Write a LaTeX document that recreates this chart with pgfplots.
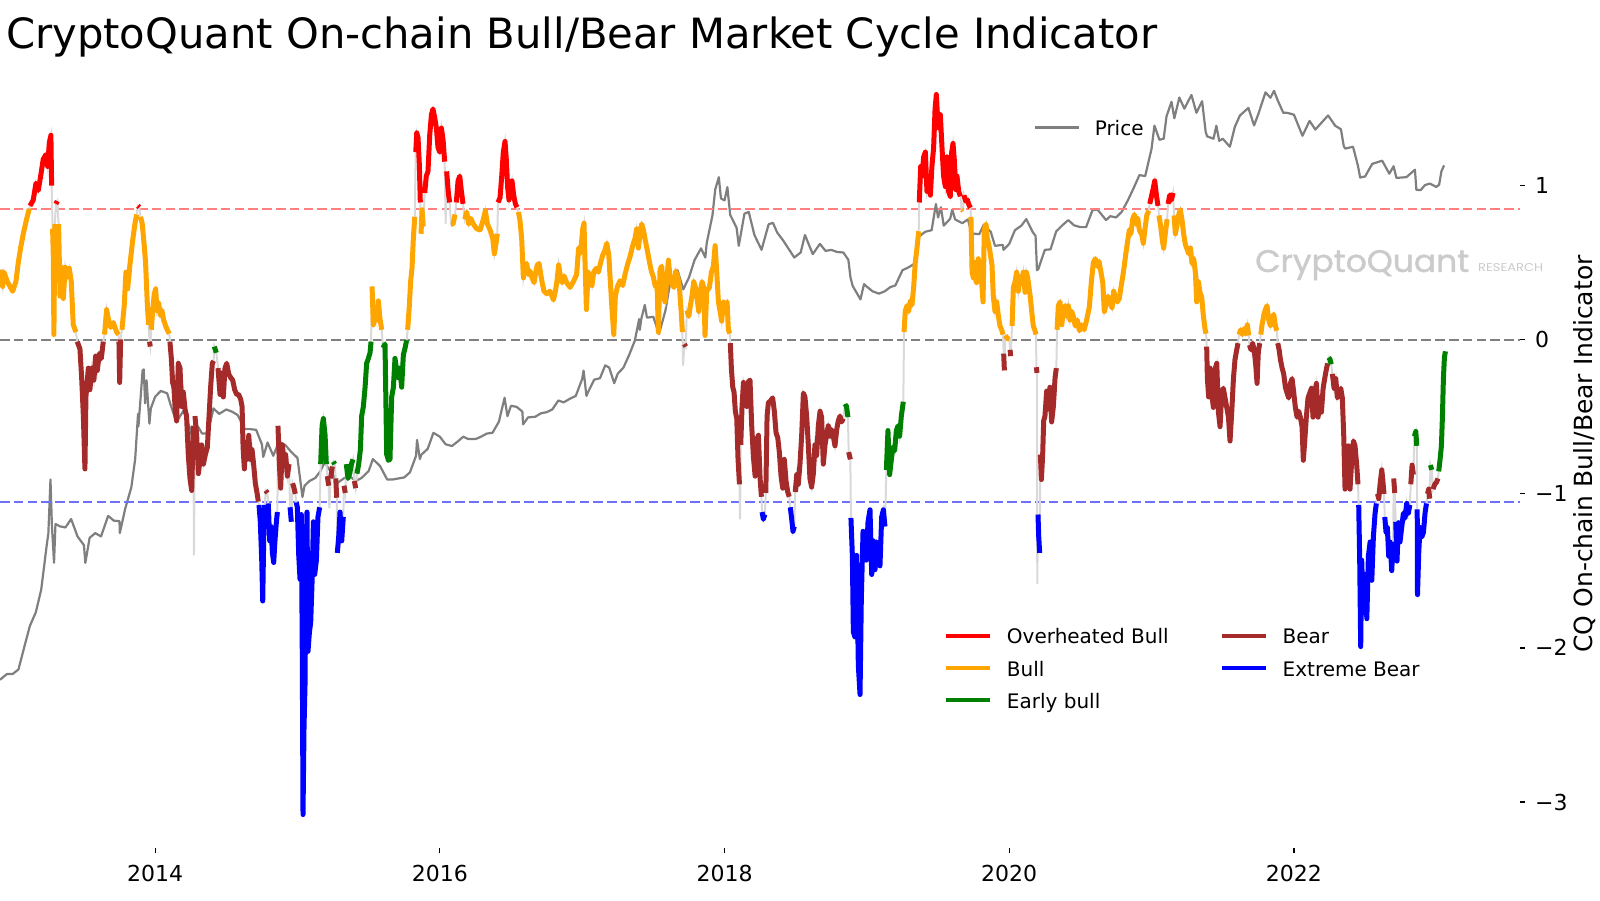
\documentclass[border=0pt]{standalone}
\usepackage{fontspec}
\setmainfont{DejaVu Sans}
\newfontfamily\wmfont{Poppins}[FakeBold=1.2]
\newfontfamily\wmlight{Poppins}
\usepackage{graphicx}
\usepackage{pgfplots}
\usepackage{pgfplotstable}
\pgfplotsset{compat=1.18}

\definecolor{cqred}{HTML}{FF0000}
\definecolor{cqorange}{HTML}{FFA500}
\definecolor{cqgreen}{HTML}{008000}
\definecolor{cqbrown}{HTML}{A52A2A}
\definecolor{cqblue}{HTML}{0000FF}
\definecolor{pricegray}{HTML}{7F7F7F}
\definecolor{basegray}{HTML}{D9D9D9}
\definecolor{wmgray}{HTML}{CBCBCB}
\definecolor{dashred}{HTML}{FF8080}
\definecolor{dashgray}{HTML}{808080}
\definecolor{dashblue}{RGB}{110,110,255}

% regime r: 0 Extreme Bear, 1 Bear, 2 Early bull, 3 Bull, 4 Overheated Bull, 9 none
\pgfplotstableread{
t v r
2012.910 0.455 3
2012.929 0.346 3
2012.938 0.439 3
2012.962 0.377 3
2012.999 0.315 3
2013.022 0.377 3
2013.039 0.502 3
2013.055 0.595 3
2013.074 0.688 3
2013.097 0.782 3
2013.116 0.850 3
2013.121 0.869 4
2013.144 0.907 4
2013.163 1.016 4
2013.179 0.969 4
2013.196 1.062 4
2013.214 1.171 4
2013.233 1.202 4
2013.245 1.125 4
2013.257 1.280 4
2013.268 1.327 4
2013.273 1.000 4
2013.280 0.720 3
2013.285 0.533 3
2013.289 0.034 3
2013.296 0.751 3
2013.303 0.882 4
2013.313 0.900 4
2013.322 0.751 3
2013.332 0.283 3
2013.343 0.470 3
2013.355 0.268 3
2013.369 0.470 3
2013.383 0.408 3
2013.397 0.464 3
2013.411 0.377 3
2013.425 0.097 3
2013.444 0.050 3
2013.453 -0.012 1
2013.472 -0.059 1
2013.484 -0.246 1
2013.496 -0.495 1
2013.507 -0.838 1
2013.514 -0.371 1
2013.531 -0.184 1
2013.542 -0.324 1
2013.556 -0.184 1
2013.570 -0.262 1
2013.582 -0.106 1
2013.594 -0.199 1
2013.608 -0.090 1
2013.622 -0.121 1
2013.636 -0.012 1
2013.645 0.034 3
2013.659 0.196 3
2013.673 0.128 3
2013.687 0.081 3
2013.706 0.112 3
2013.730 0.050 3
2013.744 0.034 3
2013.746 -0.012 1
2013.751 -0.277 1
2013.758 0.003 1
2013.767 0.065 3
2013.783 0.221 3
2013.795 0.439 3
2013.807 0.330 3
2013.823 0.486 3
2013.842 0.642 3
2013.858 0.751 3
2013.870 0.813 3
2013.879 0.869 4
2013.889 0.860 4
2013.898 0.798 3
2013.910 0.751 3
2013.922 0.626 3
2013.933 0.502 3
2013.945 0.237 3
2013.954 0.097 3
2013.961 -0.012 1
2013.966 -0.044 1
2013.973 0.065 3
2013.983 0.190 3
2013.994 0.299 3
2014.004 0.330 3
2014.013 0.190 3
2014.025 0.237 3
2014.036 0.159 3
2014.048 0.190 3
2014.060 0.128 3
2014.074 0.090 3
2014.088 0.059 3
2014.100 0.040 3
2014.104 -0.012 1
2014.114 -0.121 1
2014.123 -0.277 1
2014.132 -0.308 1
2014.142 -0.464 1
2014.151 -0.526 1
2014.163 -0.153 1
2014.175 -0.184 1
2014.186 -0.433 1
2014.198 -0.340 1
2014.210 -0.449 1
2014.221 -0.495 1
2014.233 -0.745 1
2014.245 -0.900 1
2014.257 -0.978 1
2014.269 -0.558 1
2014.273 -1.399 9
2014.280 -0.495 1
2014.292 -0.620 1
2014.304 -0.869 1
2014.316 -0.776 1
2014.327 -0.682 1
2014.339 -0.807 1
2014.353 -0.745 1
2014.367 -0.698 1
2014.379 -0.495 1
2014.390 -0.308 1
2014.402 -0.153 1
2014.411 -0.137 1
2014.416 -0.044 2
2014.430 -0.084 2
2014.442 -0.184 1
2014.456 -0.355 1
2014.468 -0.215 1
2014.479 -0.371 1
2014.491 -0.184 1
2014.503 -0.153 1
2014.517 -0.221 1
2014.531 -0.246 1
2014.545 -0.262 1
2014.559 -0.324 1
2014.573 -0.355 1
2014.587 -0.355 1
2014.601 -0.386 1
2014.611 -0.433 1
2014.618 -0.698 1
2014.627 -0.838 1
2014.636 -0.667 1
2014.646 -0.776 1
2014.658 -0.620 1
2014.669 -0.776 1
2014.681 -0.713 1
2014.692 -0.807 1
2014.704 -0.931 1
2014.716 -0.994 1
2014.725 -1.050 1
2014.730 -1.072 0
2014.739 -1.181 0
2014.749 -1.430 0
2014.756 -1.695 0
2014.763 -1.274 0
2014.770 -1.072 0
2014.777 -0.978 1
2014.789 -0.994 1
2014.795 -1.062 0
2014.805 -1.305 0
2014.814 -1.212 0
2014.824 -1.383 0
2014.833 -1.445 0
2014.842 -1.305 0
2014.852 -1.181 0
2014.859 -1.118 0
2014.863 -0.558 1
2014.873 -0.807 1
2014.882 -0.963 1
2014.894 -0.682 1
2014.906 -0.807 1
2014.917 -0.745 1
2014.929 -0.885 1
2014.941 -0.807 1
2014.948 -1.087 0
2014.957 -1.181 0
2014.966 -0.931 1
2014.976 -0.963 1
2014.985 -1.000 1
2014.992 -1.056 0
2014.999 -1.087 0
2015.009 -1.399 0
2015.018 -1.554 0
2015.027 -1.134 0
2015.034 -2.053 0
2015.039 -3.081 0
2015.046 -2.520 0
2015.053 -2.240 0
2015.060 -1.430 0
2015.067 -1.118 0
2015.074 -2.022 0
2015.084 -1.897 0
2015.093 -1.835 0
2015.102 -1.586 0
2015.112 -1.181 0
2015.121 -1.523 0
2015.133 -1.430 0
2015.144 -1.150 0
2015.156 -1.087 0
2015.163 -0.807 2
2015.173 -0.558 2
2015.182 -0.511 2
2015.194 -0.620 2
2015.203 -0.807 2
2015.210 -0.885 1
2015.219 -0.947 1
2015.224 -1.093 0
2015.233 -0.900 1
2015.245 -0.822 1
2015.252 -0.791 2
2015.262 -0.807 2
2015.269 -0.900 1
2015.276 -1.025 1
2015.280 -1.383 0
2015.290 -1.274 0
2015.299 -1.118 0
2015.311 -1.305 0
2015.322 -1.150 0
2015.327 -0.947 1
2015.336 -0.994 1
2015.343 -0.807 2
2015.355 -0.900 2
2015.367 -0.869 2
2015.379 -0.807 2
2015.390 -0.776 2
2015.400 -0.916 1
2015.409 -0.963 1
2015.418 -0.869 2
2015.430 -0.807 2
2015.442 -0.713 2
2015.451 -0.495 2
2015.463 -0.433 2
2015.475 -0.308 2
2015.486 -0.153 2
2015.498 -0.121 2
2015.510 -0.084 2
2015.517 -0.012 2
2015.524 0.346 3
2015.533 0.097 3
2015.545 0.196 3
2015.557 0.128 3
2015.568 0.252 3
2015.580 0.134 3
2015.592 0.065 3
2015.601 -0.053 2
2015.615 -0.028 2
2015.627 -0.745 2
2015.639 -0.782 2
2015.650 -0.776 2
2015.662 -0.371 2
2015.674 -0.308 2
2015.685 -0.121 2
2015.697 -0.199 2
2015.709 -0.246 2
2015.720 -0.184 2
2015.732 -0.308 2
2015.744 -0.097 2
2015.756 -0.053 2
2015.767 -0.003 2
2015.774 0.065 3
2015.786 0.221 3
2015.795 0.377 3
2015.805 0.470 3
2015.814 0.657 3
2015.824 0.798 3
2015.831 1.218 4
2015.838 1.343 4
2015.847 1.312 4
2015.856 1.140 4
2015.863 0.891 4
2015.868 0.688 3
2015.875 0.844 3
2015.884 0.735 3
2015.894 0.953 4
2015.905 1.062 4
2015.917 1.093 4
2015.929 1.327 4
2015.941 1.461 4
2015.952 1.498 4
2015.964 1.442 4
2015.976 1.374 4
2015.987 1.249 4
2015.999 1.218 4
2016.011 1.374 4
2016.023 1.296 4
2016.034 1.156 4
2016.041 0.751 3
2016.048 1.093 4
2016.060 0.953 4
2016.069 0.891 4
2016.079 0.751 3
2016.093 0.751 3
2016.107 0.813 3
2016.116 0.891 4
2016.128 1.031 4
2016.140 1.062 4
2016.151 0.969 4
2016.163 0.882 4
2016.175 0.782 3
2016.189 0.829 3
2016.203 0.751 3
2016.217 0.788 3
2016.236 0.751 3
2016.259 0.720 3
2016.283 0.713 3
2016.306 0.782 3
2016.320 0.838 3
2016.334 0.751 3
2016.353 0.713 3
2016.372 0.657 3
2016.383 0.558 3
2016.395 0.626 3
2016.404 0.688 3
2016.409 0.891 4
2016.423 0.922 4
2016.435 1.062 4
2016.446 1.218 4
2016.458 1.287 4
2016.467 1.171 4
2016.477 0.984 4
2016.486 0.907 4
2016.496 0.969 4
2016.507 1.031 4
2016.519 0.938 4
2016.531 0.882 4
2016.542 0.860 4
2016.552 0.829 3
2016.563 0.776 3
2016.575 0.657 3
2016.587 0.402 3
2016.599 0.470 3
2016.610 0.495 3
2016.622 0.424 3
2016.634 0.446 3
2016.648 0.402 3
2016.662 0.371 3
2016.674 0.439 3
2016.685 0.486 3
2016.697 0.495 3
2016.709 0.424 3
2016.721 0.361 3
2016.732 0.315 3
2016.751 0.299 3
2016.774 0.315 3
2016.798 0.259 3
2016.812 0.315 3
2016.823 0.383 3
2016.835 0.486 3
2016.847 0.408 3
2016.859 0.371 3
2016.873 0.414 3
2016.891 0.371 3
2016.915 0.340 3
2016.938 0.377 3
2016.961 0.424 3
2016.975 0.595 3
2016.989 0.564 3
2017.004 0.720 3
2017.013 0.757 3
2017.020 0.502 3
2017.030 0.196 3
2017.041 0.439 3
2017.055 0.402 3
2017.069 0.352 3
2017.081 0.439 3
2017.098 0.464 3
2017.114 0.439 3
2017.130 0.502 3
2017.144 0.548 3
2017.159 0.579 3
2017.173 0.626 3
2017.187 0.548 3
2017.198 0.377 3
2017.210 0.190 3
2017.222 0.034 3
2017.233 0.283 3
2017.248 0.346 3
2017.266 0.383 3
2017.285 0.352 3
2017.301 0.424 3
2017.318 0.486 3
2017.336 0.539 3
2017.355 0.611 3
2017.371 0.657 3
2017.383 0.720 3
2017.395 0.595 3
2017.407 0.695 3
2017.418 0.751 3
2017.430 0.713 3
2017.444 0.642 3
2017.458 0.579 3
2017.472 0.508 3
2017.486 0.446 3
2017.500 0.408 3
2017.514 0.346 3
2017.526 0.361 3
2017.535 0.050 3
2017.547 0.455 3
2017.559 0.477 3
2017.571 0.283 3
2017.582 0.246 3
2017.594 0.377 3
2017.606 0.517 3
2017.617 0.408 3
2017.631 0.361 3
2017.645 0.340 3
2017.657 0.446 3
2017.671 0.408 3
2017.683 0.346 3
2017.695 0.190 3
2017.704 0.050 3
2017.709 -0.168 9
2017.718 -0.028 1
2017.728 -0.044 1
2017.735 0.190 3
2017.749 0.153 3
2017.760 0.221 3
2017.772 0.290 3
2017.784 0.377 3
2017.795 0.340 3
2017.807 0.268 3
2017.819 0.184 3
2017.830 0.315 3
2017.842 0.377 3
2017.854 0.340 3
2017.863 0.028 3
2017.875 0.315 3
2017.894 0.340 3
2017.908 0.439 3
2017.922 0.477 3
2017.934 0.611 3
2017.945 0.446 3
2017.957 0.246 3
2017.969 0.184 3
2017.980 0.121 3
2017.992 0.246 3
2018.006 0.221 3
2018.018 0.246 3
2018.027 0.065 3
2018.037 0.040 3
2018.041 -0.022 1
2018.048 -0.184 1
2018.058 -0.308 1
2018.067 -0.340 1
2018.076 -0.464 1
2018.086 -0.511 1
2018.095 -0.776 1
2018.105 -0.938 1
2018.109 -1.165 9
2018.114 -0.682 1
2018.123 -0.433 1
2018.133 -0.277 1
2018.144 -0.324 1
2018.156 -0.433 1
2018.168 -0.271 1
2018.179 -0.262 1
2018.191 -0.558 1
2018.203 -0.760 1
2018.215 -0.885 1
2018.226 -0.651 1
2018.238 -0.620 1
2018.250 -0.900 1
2018.259 -1.019 1
2018.264 -1.118 0
2018.273 -1.165 0
2018.283 -1.134 0
2018.290 -0.994 1
2018.299 -0.495 1
2018.308 -0.408 1
2018.324 -0.396 1
2018.338 -0.377 1
2018.350 -0.464 1
2018.362 -0.604 1
2018.374 -0.636 1
2018.385 -0.729 1
2018.397 -0.885 1
2018.409 -0.963 1
2018.420 -0.776 1
2018.432 -0.916 1
2018.444 -0.988 1
2018.455 -1.019 1
2018.462 -1.087 0
2018.471 -1.156 0
2018.481 -1.243 0
2018.490 -1.212 0
2018.497 -0.988 1
2018.507 -0.875 1
2018.518 -0.938 1
2018.530 -0.807 1
2018.542 -0.620 1
2018.554 -0.346 1
2018.565 -0.371 1
2018.577 -0.495 1
2018.589 -0.688 1
2018.600 -0.900 1
2018.612 -0.956 1
2018.624 -0.869 1
2018.635 -0.682 1
2018.647 -0.751 1
2018.659 -0.558 1
2018.671 -0.464 1
2018.682 -0.502 1
2018.694 -0.807 1
2018.706 -0.682 1
2018.717 -0.620 1
2018.729 -0.558 1
2018.741 -0.626 1
2018.752 -0.583 1
2018.764 -0.626 1
2018.776 -0.688 1
2018.788 -0.583 1
2018.799 -0.526 1
2018.811 -0.495 1
2018.823 -0.533 1
2018.834 -0.511 1
2018.844 -0.439 2
2018.856 -0.427 2
2018.867 -0.502 2
2018.872 -0.729 1
2018.884 -0.776 1
2018.888 -1.156 0
2018.898 -1.399 0
2018.905 -1.897 0
2018.916 -1.928 0
2018.928 -1.399 0
2018.940 -2.115 0
2018.952 -2.302 0
2018.961 -1.679 0
2018.973 -1.243 0
2018.984 -1.305 0
2018.996 -1.430 0
2019.008 -1.181 0
2019.022 -1.103 0
2019.034 -1.523 0
2019.045 -1.305 0
2019.057 -1.492 0
2019.069 -1.312 0
2019.080 -1.336 0
2019.092 -1.467 0
2019.104 -1.150 0
2019.116 -1.103 0
2019.127 -1.212 0
2019.137 -0.844 2
2019.148 -0.589 2
2019.160 -0.875 2
2019.172 -0.776 2
2019.183 -0.698 2
2019.195 -0.720 2
2019.207 -0.589 2
2019.219 -0.558 2
2019.230 -0.626 2
2019.242 -0.495 2
2019.256 -0.402 2
2019.261 0.050 3
2019.270 0.190 3
2019.282 0.221 3
2019.293 0.184 3
2019.305 0.252 3
2019.317 0.227 3
2019.329 0.346 3
2019.340 0.502 3
2019.352 0.595 3
2019.364 0.704 3
2019.368 0.891 4
2019.378 1.125 4
2019.387 1.062 4
2019.399 1.187 4
2019.411 1.218 4
2019.422 0.963 4
2019.434 1.031 4
2019.446 0.938 4
2019.457 1.125 4
2019.469 1.249 4
2019.479 1.498 4
2019.488 1.592 4
2019.497 1.436 4
2019.507 1.374 4
2019.516 1.461 4
2019.528 1.243 4
2019.539 1.062 4
2019.551 0.994 4
2019.563 1.187 4
2019.574 0.963 4
2019.586 0.931 4
2019.596 1.218 4
2019.605 1.274 4
2019.614 1.171 4
2019.624 0.975 4
2019.633 1.062 4
2019.645 0.963 4
2019.657 0.931 4
2019.666 0.844 3
2019.675 0.838 3
2019.682 0.938 4
2019.694 0.900 4
2019.706 0.907 4
2019.717 0.875 4
2019.727 0.857 4
2019.731 0.798 3
2019.739 0.439 3
2019.748 0.402 3
2019.760 0.502 3
2019.771 0.371 3
2019.783 0.526 3
2019.795 0.439 3
2019.806 0.377 3
2019.816 0.246 3
2019.825 0.720 3
2019.837 0.751 3
2019.846 0.657 3
2019.856 0.620 3
2019.867 0.558 3
2019.879 0.486 3
2019.888 0.283 3
2019.900 0.184 3
2019.912 0.246 3
2019.924 0.153 3
2019.935 0.090 3
2019.947 0.065 3
2019.956 0.034 3
2019.961 -0.090 1
2019.966 -0.199 1
2019.973 0.028 3
2019.987 0.009 3
2020.001 0.003 3
2020.006 -0.065 1
2020.010 -0.106 1
2020.020 0.090 3
2020.029 0.340 3
2020.041 0.377 3
2020.052 0.439 3
2020.064 0.315 3
2020.076 0.408 3
2020.087 0.377 3
2020.099 0.439 3
2020.111 0.308 3
2020.120 0.439 3
2020.130 0.402 3
2020.139 0.340 3
2020.148 0.277 3
2020.158 0.184 3
2020.169 0.090 3
2020.181 0.059 3
2020.188 0.034 3
2020.191 -0.178 1
2020.195 -0.215 1
2020.197 -1.586 9
2020.202 -1.134 0
2020.207 -1.274 0
2020.214 -1.383 0
2020.219 -0.745 1
2020.226 -0.907 1
2020.235 -0.745 1
2020.242 -0.526 1
2020.251 -0.495 1
2020.263 -0.333 1
2020.275 -0.449 1
2020.286 -0.308 1
2020.298 -0.533 1
2020.310 -0.433 1
2020.322 -0.246 1
2020.331 -0.184 1
2020.336 0.065 3
2020.345 0.221 3
2020.357 0.246 3
2020.369 0.097 3
2020.380 0.190 3
2020.392 0.221 3
2020.404 0.153 3
2020.415 0.221 3
2020.427 0.128 3
2020.439 0.184 3
2020.450 0.153 3
2020.464 0.090 3
2020.478 0.128 3
2020.493 0.059 3
2020.509 0.097 3
2020.526 0.065 3
2020.544 0.128 3
2020.563 0.215 3
2020.577 0.377 3
2020.591 0.502 3
2020.605 0.526 3
2020.619 0.477 3
2020.631 0.508 3
2020.643 0.446 3
2020.657 0.371 3
2020.668 0.184 3
2020.680 0.227 3
2020.694 0.283 3
2020.708 0.246 3
2020.722 0.206 3
2020.734 0.315 3
2020.745 0.277 3
2020.759 0.246 3
2020.773 0.268 3
2020.785 0.340 3
2020.797 0.408 3
2020.809 0.486 3
2020.820 0.564 3
2020.832 0.642 3
2020.844 0.713 3
2020.855 0.688 3
2020.867 0.782 3
2020.879 0.813 3
2020.891 0.751 3
2020.903 0.788 3
2020.914 0.713 3
2020.931 0.682 3
2020.942 0.626 3
2020.954 0.720 3
2020.966 0.807 3
2020.980 0.838 3
2020.987 0.882 4
2020.999 0.931 4
2021.010 0.975 4
2021.022 1.031 4
2021.034 0.938 4
2021.045 0.869 4
2021.052 0.807 3
2021.064 0.735 3
2021.076 0.642 3
2021.085 0.595 3
2021.097 0.695 3
2021.109 0.782 3
2021.116 0.882 4
2021.127 0.938 4
2021.139 0.907 4
2021.151 0.953 4
2021.158 0.807 3
2021.167 0.688 3
2021.179 0.745 3
2021.191 0.813 3
2021.202 0.844 3
2021.214 0.776 3
2021.226 0.682 3
2021.237 0.620 3
2021.249 0.589 3
2021.261 0.558 3
2021.273 0.595 3
2021.284 0.495 3
2021.296 0.526 3
2021.308 0.433 3
2021.317 0.246 3
2021.329 0.377 3
2021.340 0.308 3
2021.352 0.277 3
2021.364 0.153 3
2021.376 0.065 3
2021.383 0.040 3
2021.387 -0.044 1
2021.392 -0.252 1
2021.401 -0.371 1
2021.411 -0.184 1
2021.422 -0.340 1
2021.434 -0.439 1
2021.446 -0.190 1
2021.458 -0.153 1
2021.469 -0.464 1
2021.481 -0.564 1
2021.493 -0.340 1
2021.504 -0.315 1
2021.516 -0.377 1
2021.528 -0.439 1
2021.540 -0.502 1
2021.551 -0.657 1
2021.563 -0.470 1
2021.575 -0.252 1
2021.586 -0.128 1
2021.598 -0.065 1
2021.607 -0.022 1
2021.614 0.034 3
2021.626 0.065 3
2021.638 0.034 3
2021.650 0.072 3
2021.661 0.040 3
2021.673 0.097 3
2021.682 0.028 3
2021.687 -0.034 1
2021.699 -0.065 1
2021.710 -0.022 1
2021.722 -0.075 1
2021.732 -0.168 1
2021.741 -0.283 1
2021.750 -0.075 1
2021.760 -0.022 1
2021.767 0.034 3
2021.776 0.097 3
2021.788 0.159 3
2021.799 0.196 3
2021.811 0.221 3
2021.823 0.128 3
2021.835 0.090 3
2021.846 0.134 3
2021.858 0.165 3
2021.870 0.090 3
2021.879 0.059 3
2021.886 -0.022 1
2021.896 -0.065 1
2021.905 -0.128 1
2021.917 -0.184 1
2021.928 -0.221 1
2021.940 -0.308 1
2021.952 -0.346 1
2021.963 -0.377 1
2021.975 -0.283 1
2021.987 -0.252 1
2021.999 -0.346 1
2022.010 -0.439 1
2022.022 -0.502 1
2022.034 -0.464 1
2022.045 -0.502 1
2022.057 -0.564 1
2022.066 -0.782 1
2022.076 -0.657 1
2022.087 -0.502 1
2022.099 -0.377 1
2022.111 -0.346 1
2022.123 -0.315 1
2022.134 -0.502 1
2022.146 -0.346 1
2022.158 -0.283 1
2022.170 -0.502 1
2022.181 -0.377 1
2022.193 -0.470 1
2022.205 -0.315 1
2022.216 -0.252 1
2022.228 -0.190 1
2022.237 -0.153 1
2022.244 -0.115 2
2022.254 -0.128 2
2022.262 -0.159 2
2022.270 -0.221 1
2022.282 -0.315 1
2022.294 -0.252 1
2022.305 -0.377 1
2022.317 -0.346 1
2022.329 -0.315 1
2022.340 -0.377 1
2022.350 -0.626 1
2022.359 -0.969 1
2022.371 -0.875 1
2022.382 -0.688 1
2022.394 -0.969 1
2022.406 -0.782 1
2022.418 -0.657 1
2022.429 -0.688 1
2022.441 -0.813 1
2022.450 -0.938 1
2022.455 -1.072 0
2022.462 -1.430 0
2022.469 -1.991 0
2022.476 -1.430 0
2022.488 -1.772 0
2022.500 -1.523 0
2022.512 -1.810 0
2022.523 -1.405 0
2022.535 -1.312 0
2022.547 -1.561 0
2022.558 -1.280 0
2022.570 -1.125 0
2022.579 -1.062 0
2022.587 -1.000 1
2022.596 -1.031 1
2022.605 -0.938 1
2022.617 -0.844 1
2022.624 -0.907 1
2022.633 -1.000 1
2022.638 -1.150 0
2022.647 -1.249 0
2022.656 -1.218 0
2022.666 -1.405 0
2022.675 -1.312 0
2022.687 -1.498 0
2022.697 -1.312 0
2022.701 -0.900 1
2022.708 -0.994 1
2022.715 -1.181 0
2022.724 -1.436 0
2022.734 -1.187 0
2022.745 -1.312 0
2022.757 -1.218 0
2022.769 -1.125 0
2022.781 -1.156 0
2022.792 -1.062 0
2022.804 -1.125 0
2022.814 -1.072 0
2022.821 -0.938 1
2022.830 -0.813 1
2022.839 -0.875 1
2022.846 -0.626 2
2022.856 -0.595 2
2022.863 -0.688 2
2022.866 -1.100 0
2022.868 -1.654 0
2022.877 -1.374 0
2022.886 -1.218 0
2022.898 -1.280 0
2022.910 -1.249 0
2022.921 -1.125 0
2022.931 -1.062 0
2022.938 -1.000 1
2022.947 -0.969 1
2022.954 -1.031 1
2022.959 -0.813 2
2022.968 -0.844 2
2022.977 -0.969 1
2022.989 -0.938 1
2023.001 -0.925 1
2023.012 -0.900 1
2023.017 -0.854 2
2023.026 -0.782 2
2023.036 -0.688 2
2023.043 -0.502 2
2023.050 -0.252 2
2023.057 -0.115 2
2023.064 -0.075 2
}\ind

\pgfplotstableread{
t p
2012.910 12.3
2012.960 13.4
2013.000 13.4
2013.040 14.3
2013.085 20.5
2013.120 27
2013.162 33
2013.200 46
2013.240 90
2013.250 104
2013.265 230
2013.270 165
2013.275 117
2013.290 68
2013.300 120
2013.330 116
2013.370 114
2013.410 129
2013.455 100
2013.500 88
2013.510 68
2013.540 98
2013.580 105
2013.620 100
2013.670 135
2013.710 126
2013.750 125
2013.752 105
2013.790 150
2013.833 205
2013.860 310
2013.880 600
2013.883 500
2013.900 800
2013.912 1130
2013.920 1150
2013.930 700
2013.940 980
2013.960 520
2013.970 650
2014.000 770
2014.040 840
2014.085 810
2014.110 680
2014.150 530
2014.165 560
2014.200 630
2014.250 470
2014.270 380
2014.300 500
2014.330 450
2014.370 450
2014.410 650
2014.450 600
2014.500 640
2014.540 620
2014.580 590
2014.630 480
2014.670 480
2014.710 475
2014.750 385
2014.760 320
2014.790 395
2014.830 325
2014.870 400
2014.915 380
2014.955 345
2015.000 315
2015.035 178
2015.050 210
2015.085 225
2015.125 235
2015.162 260
2015.190 295
2015.250 245
2015.285 220
2015.330 235
2015.370 240
2015.410 225
2015.450 235
2015.500 260
2015.530 310
2015.580 280
2015.630 230
2015.670 230
2015.750 237
2015.790 255
2015.833 325
2015.840 410
2015.860 310
2015.870 330
2015.915 360
2015.955 455
2016.000 430
2016.040 385
2016.085 375
2016.125 400
2016.165 430
2016.200 415
2016.250 415
2016.290 430
2016.330 450
2016.370 455
2016.415 535
2016.455 760
2016.475 580
2016.500 675
2016.540 665
2016.580 620
2016.585 515
2016.620 570
2016.670 575
2016.710 605
2016.750 615
2016.790 640
2016.833 730
2016.870 710
2016.915 750
2016.955 780
2017.000 1000
2017.010 1130
2017.030 780
2017.040 820
2017.085 990
2017.125 1010
2017.162 1220
2017.190 1180
2017.225 940
2017.250 1080
2017.290 1180
2017.330 1420
2017.370 1750
2017.400 2400
2017.405 2050
2017.415 2400
2017.440 2950
2017.455 2450
2017.500 2480
2017.540 1930
2017.585 2720
2017.620 4200
2017.670 4900
2017.710 3700
2017.750 4400
2017.790 5700
2017.835 6750
2017.865 5900
2017.875 7300
2017.915 10900
2017.935 16000
2017.960 19100
2017.975 14000
2018.000 13600
2018.020 16500
2018.040 11000
2018.085 9100
2018.100 7000
2018.140 11200
2018.170 11500
2018.210 8200
2018.250 6900
2018.260 6600
2018.310 9600
2018.340 9800
2018.370 8500
2018.415 7500
2018.490 5900
2018.535 6350
2018.565 8200
2018.620 6200
2018.670 7200
2018.710 6500
2018.750 6600
2018.790 6400
2018.835 6350
2018.870 5700
2018.885 4400
2018.900 3900
2018.955 3200
2018.980 4000
2019.000 3850
2019.040 3600
2019.085 3480
2019.125 3600
2019.165 3830
2019.200 3920
2019.250 4900
2019.290 5100
2019.330 5350
2019.365 8000
2019.410 8600
2019.455 8800
2019.485 12900
2019.500 10600
2019.520 12300
2019.540 9400
2019.585 10400
2019.600 11900
2019.620 10300
2019.670 9750
2019.710 10300
2019.735 8400
2019.790 8300
2019.820 9500
2019.870 8600
2019.900 7000
2019.955 7100
2019.960 6600
2020.000 7200
2020.040 8800
2020.085 9400
2020.120 10350
2020.165 8550
2020.185 8100
2020.195 4900
2020.205 5000
2020.250 6600
2020.290 6650
2020.330 8650
2020.370 9400
2020.415 10200
2020.455 9450
2020.500 9200
2020.540 9200
2020.585 11800
2020.620 11900
2020.680 10200
2020.710 10800
2020.750 10600
2020.790 11500
2020.835 13700
2020.870 16000
2020.915 19700
2020.955 19400
2021.000 29000
2021.020 40600
2021.055 33000
2021.085 33500
2021.105 46500
2021.140 57500
2021.160 45200
2021.195 61200
2021.230 52000
2021.280 63500
2021.315 49000
2021.355 58000
2021.380 37000
2021.390 34700
2021.435 33500
2021.455 40500
2021.475 32500
2021.500 33500
2021.550 29800
2021.585 39900
2021.620 47000
2021.680 52600
2021.720 40700
2021.750 48100
2021.800 66000
2021.835 61000
2021.860 67500
2021.885 59000
2021.925 49000
2021.955 48900
2022.000 47600
2022.060 35000
2022.110 43500
2022.150 38300
2022.240 47100
2022.290 40500
2022.330 38500
2022.350 30100
2022.360 29000
2022.415 29800
2022.450 22500
2022.465 19000
2022.500 19300
2022.550 23200
2022.620 24300
2022.670 20100
2022.700 22400
2022.720 18900
2022.790 19100
2022.850 21300
2022.860 15900
2022.890 15800
2022.920 17000
2022.955 17400
2023.000 16550
2023.020 17100
2023.036 20800
2023.055 22700
}\price

\pgfplotsset{
  cqlegend/.style={
    legend cell align=left,
    legend style={draw=none, fill=none, inner sep=0pt, outer sep=0pt,
      font=\fontsize{20}{24}\selectfont, row sep=8.6pt,
      nodes={inner sep=0pt, text height=20pt, text depth=3.6pt},
      /tikz/every odd column/.append style={column sep=15pt}},
  },
}

\begin{document}
\begin{tikzpicture}[x=1pt,y=1pt]
\useasboundingbox (0,0) rectangle (1600,900);

% watermark
\node[anchor=base west, inner sep=0pt, text=wmgray] at (1255,628) {\resizebox{214pt}{22pt}{\wmfont CryptoQuant}};
\node[anchor=base west, inner sep=0pt, text=wmgray] at (1478,628) {\resizebox{65pt}{8pt}{\wmlight RESEARCH}};

% price axis (log, hidden)
\begin{axis}[
  at={(0pt,51.7pt)}, anchor=south west, scale only axis,
  width=1520pt, height=790.5pt,
  xmin=2012.9104, xmax=2023.588,
  ymode=log, ymin=1.047, ymax=109400,
  hide axis,
  cqlegend,
  legend style={at={(axis description cs:0.68026,0.92675)}, anchor=north west},
  legend image code/.code={\draw[#1] (0pt,0pt) -- (43.6pt,0pt);},
]
\addplot[pricegray, line width=2.2pt, line join=round] table[x=t,y=p]{\price};
\addlegendentry{Price}
\end{axis}

% indicator axis
\begin{axis}[
  at={(0pt,51.7pt)}, anchor=south west, scale only axis,
  width=1520pt, height=790.5pt,
  xmin=2012.9104, xmax=2023.588,
  ymin=-3.30, ymax=1.83,
  axis x line*=bottom, axis y line*=right,
  axis line style={draw=none},
  tick align=outside, major tick length=5pt,
  tick style={black, line width=1.2pt},
  xtick={2014,2016,2018,2020,2022},
  xticklabels={2014,2016,2018,2020,2022},
  ytick={-3,-2,-1,0,1},
  yticklabels={−3,−2,−1,0,1},
  ticklabel style={font=\fontsize{22}{26}\selectfont, inner sep=0pt, text height=16pt, text depth=0pt},
  xticklabel style={anchor=north, yshift=-12.4pt},
  yticklabel style={anchor=west, xshift=10pt},
  unbounded coords=jump,
  cqlegend,
  legend columns=2,
  legend style={at={(axis description cs:0.62105,0.28387)}, anchor=north west,
    /tikz/every even column/.append style={column sep=51pt}},
  legend image code/.code={\draw[#1, line width=4pt] (0pt,0pt) -- (44pt,0pt);},
]
\addplot[dashred, line width=1.8pt, dash pattern=on 9.6pt off 4.2pt, forget plot] coordinates {(2012.9104,0.85) (2023.588,0.85)};
\addplot[dashgray, line width=1.8pt, dash pattern=on 9.6pt off 4.2pt, forget plot] coordinates {(2012.9104,0) (2023.588,0)};
\addplot[color=dashblue, line width=2pt, dash pattern=on 9.6pt off 4.2pt, forget plot] coordinates {(2012.9104,-1.05) (2023.588,-1.05)};
\addplot[basegray, line width=2pt, forget plot] table[x=t,y=v]{\ind};
\addplot[cqred, line width=5pt, line join=round, restrict expr to domain={\thisrow{r}}{3.5:4.5}] table[x=t,y=v]{\ind};
\addlegendentry{Overheated Bull}
\addplot[cqbrown, line width=5pt, line join=round, restrict expr to domain={\thisrow{r}}{0.5:1.5}] table[x=t,y=v]{\ind};
\addlegendentry{Bear}
\addplot[cqorange, line width=5pt, line join=round, restrict expr to domain={\thisrow{r}}{2.5:3.5}] table[x=t,y=v]{\ind};
\addlegendentry{Bull}
\addplot[cqblue, line width=5pt, line join=round, restrict expr to domain={\thisrow{r}}{-0.5:0.5}] table[x=t,y=v]{\ind};
\addlegendentry{Extreme Bear}
\addplot[cqgreen, line width=5pt, line join=round, restrict expr to domain={\thisrow{r}}{1.5:2.5}] table[x=t,y=v]{\ind};
\addlegendentry{Early bull}
\end{axis}

% title and right label
\node[anchor=base west, inner sep=0pt, font=\fontsize{41.7}{50}\selectfont] at (6,851) {CryptoQuant On-chain Bull/Bear Market Cycle Indicator};
\node[rotate=90, anchor=base, inner sep=0pt, font=\fontsize{25}{30}\selectfont] at (1592,446) {CQ On-chain Bull/Bear Indicator};
\end{tikzpicture}
\end{document}
